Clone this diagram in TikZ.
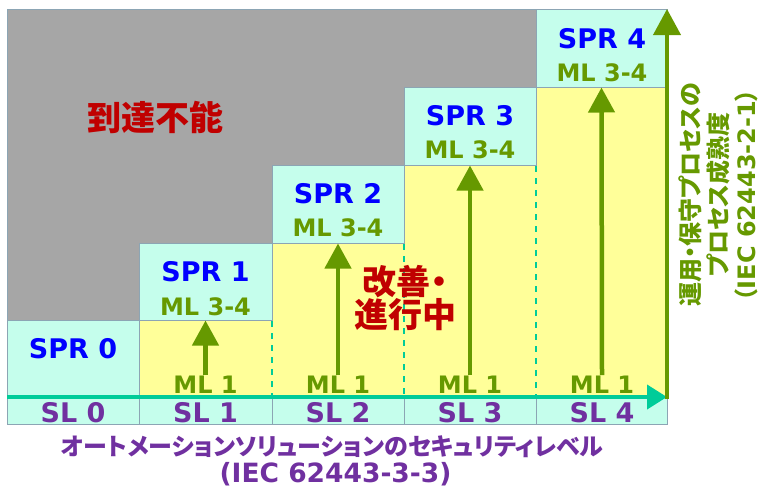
\documentclass[tikz,border=0pt]{standalone}
\usepackage{fontspec}
\setmainfont{DejaVu Sans}
\newfontfamily\jp[RawFeature=+palt]{Noto Sans CJK JP}
\usetikzlibrary{arrows.meta}
\definecolor{cellc}{RGB}{197,254,236}
\definecolor{yel}{RGB}{255,255,153}
\definecolor{grayz}{RGB}{166,166,166}
\definecolor{bord}{RGB}{140,165,180}
\definecolor{sprblue}{RGB}{0,0,255}
\definecolor{mlgreen}{RGB}{102,153,0}
\definecolor{dred}{RGB}{192,0,0}
\definecolor{purp}{RGB}{112,48,160}
\definecolor{teal2}{RGB}{0,204,153}
\tikzset{
  cellbox/.style={draw=bord,line width=1pt,fill=cellc,inner sep=0pt,minimum height=#1},
  sprtxt/.style={text=sprblue,font=\fontsize{27}{30}\selectfont\bfseries,inner sep=1pt},
  mltxt/.style={text=mlgreen,font=\fontsize{24}{28}\selectfont\bfseries,inner sep=1pt},
  sltxt/.style={text=purp,font=\fontsize{27}{30}\selectfont\bfseries,inner sep=1pt},
  upar/.style={draw=mlgreen,line width=4.5pt,-{Triangle[width=26pt,length=25pt]}},
  dashln/.style={draw=teal2,line width=1.8pt,dash pattern=on 6pt off 6pt},
}
\begin{document}
\begin{tikzpicture}[x=1pt,y=-1pt]
\useasboundingbox (0,0) rectangle (762,488);
% gray unreachable region
\fill[grayz,draw=bord,line width=1pt] (7,9) -- (536,9) -- (536,87) -- (404,87) -- (404,165) -- (272,165) -- (272,243) -- (139,243) -- (139,320) -- (7,320) -- cycle;
% yellow region
\fill[yel] (139,320) -- (272,320) -- (272,243) -- (404,243) -- (404,165) -- (536,165) -- (536,87) -- (667,87) -- (667,397) -- (139,397) -- cycle;
% SPR cells
\node[cellbox=77pt,minimum width=132pt] (s0) at (73,358.5) {};
\node[cellbox=77pt,minimum width=133pt] (s1) at (205.5,281.5) {};
\node[cellbox=78pt,minimum width=132pt] (s2) at (338,204) {};
\node[cellbox=78pt,minimum width=132pt] (s3) at (470,126) {};
\node[cellbox=78pt,minimum width=131pt] (s4) at (601.5,48) {};
% dashed separators
\draw[dashln] (272,321) -- (272,397);
\draw[dashln] (404,244) -- (404,397);
\draw[dashln] (536,166) -- (536,397);
% SL cells
\node[cellbox=27pt,minimum width=132pt] (l0) at (73,410.5) {};
\node[cellbox=27pt,minimum width=133pt] (l1) at (205.5,410.5) {};
\node[cellbox=27pt,minimum width=132pt] (l2) at (338,410.5) {};
\node[cellbox=27pt,minimum width=132pt] (l3) at (470,410.5) {};
\node[cellbox=27pt,minimum width=131pt] (l4) at (601.5,410.5) {};
% horizontal axis
\coordinate (xa0) at (7,397);
\coordinate (xa1) at (667,397);
\draw[teal2,line width=4pt,-{Triangle[width=24pt,length=20pt]}] (xa0) -- (xa1);
% SPR labels
\node[sprtxt] (t0) at (73,349) {SPR 0};
\node[sprtxt] (t1) at (205.5,272) {SPR 1};
\node[sprtxt] (t2) at (338,194) {SPR 2};
\node[sprtxt] (t3) at (470,116) {SPR 3};
\node[sprtxt] (t4) at (602,38.5) {SPR 4};
\node[mltxt] (h1) at (205.5,307) {ML 3-4};
\node[mltxt] (h2) at (338,228) {ML 3-4};
\node[mltxt] (h3) at (470,150) {ML 3-4};
\node[mltxt] (h4) at (602,73) {ML 3-4};
% ML 1 labels
\node[mltxt] (m1) at (205.5,385) {ML 1};
\node[mltxt] (m2) at (338,385) {ML 1};
\node[mltxt] (m3) at (470,385) {ML 1};
\node[mltxt] (m4) at (602,385) {ML 1};
% green up arrows
\draw[upar] (m1.north) -- (s1.south);
\draw[upar] (m2.north) -- (s2.south);
\draw[upar] (m3.north) -- (s3.south);
\draw[upar] (m4.north) -- (s4.south);
% right vertical axis
\coordinate (ya0) at (667,399);
\coordinate (ya1) at (667,9);
\draw[mlgreen,line width=4pt,-{Triangle[width=27pt,length=26pt]}] (ya0) -- (ya1);
% SL labels
\node[sltxt] (sl0) at (73,412.5) {SL 0};
\node[sltxt] (sl1) at (205.5,412.5) {SL 1};
\node[sltxt] (sl2) at (338,412.5) {SL 2};
\node[sltxt] (sl3) at (470,412.5) {SL 3};
\node[sltxt] (sl4) at (602,412.5) {SL 4};
% region texts
\node[text=dred,font=\jp\fontsize{34}{38}\selectfont\bfseries] (unr) at (155,117) {到達不能};
\node[text=dred,font=\jp\fontsize{34}{33}\selectfont\bfseries,align=center] (imp) at (405,298) {改善・\\進行中};
% axis labels
\node[text=purp,font=\jp\fontsize{24}{30}\selectfont\bfseries] (xl1) at (332.5,446.5) {オートメーションソリューションのセキュリティレベル};
\node[text=purp,font=\fontsize{26.5}{30}\selectfont\bfseries,inner sep=0pt] (xl2) at (335.5,474) {(IEC 62443-3-3)};
\node[text=mlgreen,rotate=90,align=center,font=\jp\fontsize{24}{28}\selectfont\bfseries] (yl) at (718,195) {運用・保守プロセスの\\プロセス成熟度\\（{\fontspec{DejaVu Sans}\bfseries IEC 62443-2-1}）};
\end{tikzpicture}
\end{document}
